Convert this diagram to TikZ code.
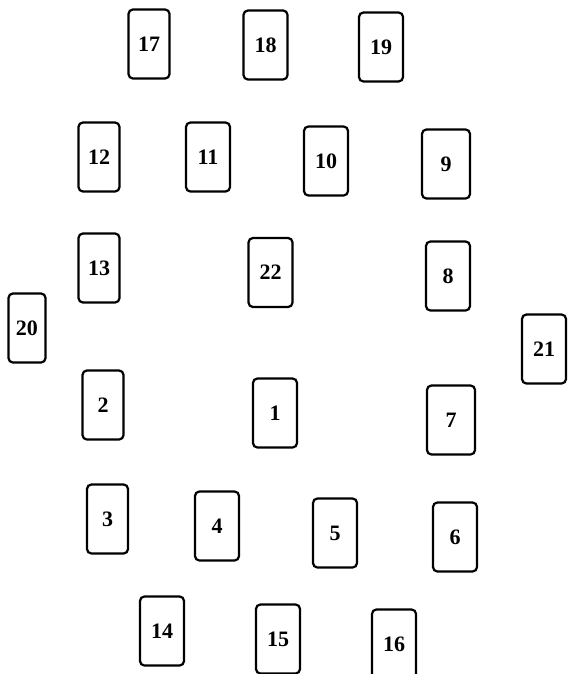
\documentclass[tikz,border=0pt]{standalone}
\usepackage{fontspec}
\setmainfont{Liberation Serif}
\usepackage{tikz}

\begin{document}
\begin{tikzpicture}[x=0.5pt, y=-0.5pt,
    card/.style={draw, line width=1.1pt, rounded corners=2.2pt, inner sep=0pt,
      minimum width=22pt, minimum height=34.5pt,
      font=\fontsize{11}{12}\selectfont\bfseries},
    narrow/.style={minimum width=20.5pt},
    wide/.style={minimum width=24pt}]
  \useasboundingbox (0,0) rectangle (568,674);
  % top row
  \node[card, narrow] (c17) at (149,44) {17};
  \node[card] (c18) at (265.5,45) {18};
  \node[card] (c19) at (381,47) {19};
  % second row
  \node[card, narrow] (c12) at (99,157) {12};
  \node[card] (c11) at (208,157) {11};
  \node[card] (c10) at (326,161) {10};
  \node[card, wide] (c9) at (446,164) {9};
  % third row
  \node[card, narrow] (c13) at (99,268) {13};
  \node[card] (c22) at (270.5,272.5) {22};
  \node[card] (c8) at (448,276) {8};
  % outer sides
  \node[card, minimum width=18.5pt] (c20) at (27,328) {20};
  \node[card] (c21) at (544,349) {21};
  % fourth row
  \node[card, narrow] (c2) at (103,405) {2};
  \node[card] (c1) at (275,413) {1};
  \node[card, wide] (c7) at (451,420) {7};
  % fifth row
  \node[card, narrow] (c3) at (107.5,519) {3};
  \node[card] (c4) at (217,526) {4};
  \node[card] (c5) at (335,533) {5};
  \node[card] (c6) at (455,537) {6};
  % bottom row
  \node[card] (c14) at (162,631) {14};
  \node[card] (c15) at (278,639) {15};
  \node[card] (c16) at (394,644) {16};
\end{tikzpicture}
\end{document}
